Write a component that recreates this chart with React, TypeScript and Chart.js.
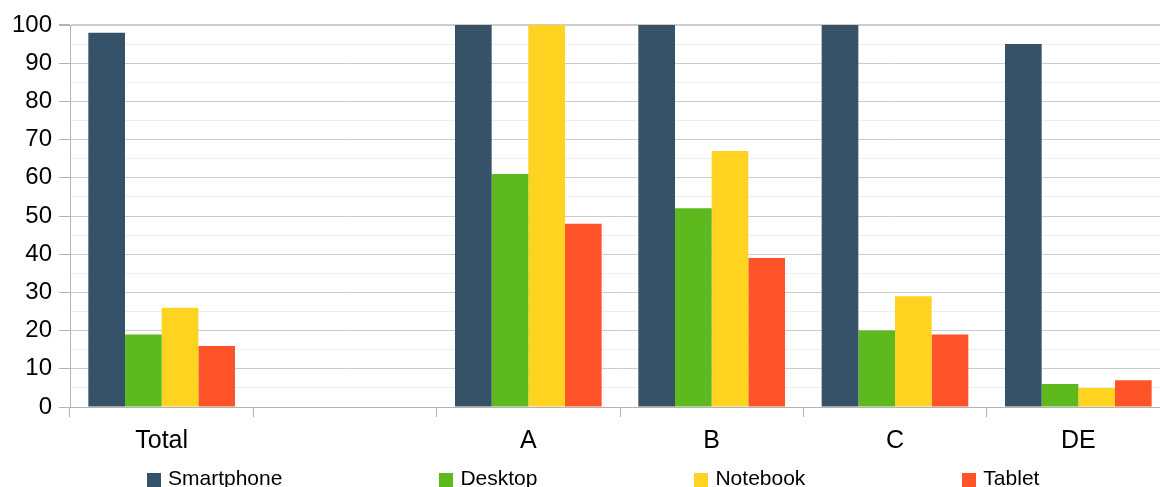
import React, { useEffect, useRef } from "react";
import { Chart, registerables } from "chart.js";

Chart.register(...registerables);

const categories = ["Total", "", "A", "B", "C", "DE"];
const smartphone = [98, null, 100, 100, 100, 95];
const desktop = [19, null, 61, 52, 20, 6];
const notebook = [26, null, 100, 67, 29, 5];
const tablet = [16, null, 48, 39, 19, 7];
const yTicks = [0, 10, 20, 30, 40, 50, 60, 70, 80, 90, 100];

const seriesNames = ["Smartphone", "Desktop", "Notebook", "Tablet"];
const seriesColors = ["#355269", "#5eb91e", "#ffd320", "#ff5429"];
const seriesData = [smartphone, desktop, notebook, tablet];

const FONT = '"Liberation Sans", Arial, sans-serif';

export default function App() {
  const ref = useRef<HTMLCanvasElement | null>(null);

  useEffect(() => {
    if (!ref.current) return;
    const chart = new Chart(ref.current, {
      type: "bar",
      data: {
        labels: categories,
        datasets: seriesNames.map((name, i) => ({
          label: name,
          data: seriesData[i],
          backgroundColor: seriesColors[i],
          borderWidth: 0,
          categoryPercentage: 0.8,
          barPercentage: 1.0,
        })),
      },
      options: {
        responsive: false,
        animation: false,
        layout: { padding: { top: 25, bottom: 32, left: 0, right: 2 } },
        plugins: {
          legend: { display: false },
          tooltip: { enabled: false },
        },
        scales: {
          x: {
            grid: {
              display: true,
              drawOnChartArea: false,
              drawTicks: true,
              tickLength: 10,
              color: "#b3b3b3",
              offset: true,
            },
            border: { display: true, color: "#b3b3b3", width: 1 },
            ticks: {
              font: { family: FONT, size: 25 },
              color: "#000000",
              padding: 9,
              maxRotation: 0,
              autoSkip: false,
            },
            afterFit: (s: any) => {
              s.height = 48;
            },
          },
          y: {
            min: 0,
            max: 100,
            grid: {
              color: (c: any) =>
                c.tick && c.tick.value % 10 === 0 ? "#cccccc" : "#eeeeee",
              lineWidth: (c: any) => (c.tick && c.tick.value === 100 ? 2 : 1),
              tickColor: (c: any) =>
                c.tick && c.tick.value % 10 === 0 ? "#b3b3b3" : "rgba(0,0,0,0)",
              tickLength: 11,
            },
            border: { display: true, color: "#b3b3b3", width: 1 },
            ticks: {
              stepSize: 5,
              autoSkip: false,
              font: { family: FONT, size: 24 },
              color: "#000000",
              padding: 7,
              callback: (v: any) => (yTicks.includes(Number(v)) ? String(v) : ""),
            },
            afterFit: (s: any) => {
              s.width = 70;
            },
          },
        },
      },
    });
    return () => chart.destroy();
  }, []);

  return (
    <div
      style={{
        position: "fixed",
        left: 0,
        top: 0,
        width: 1160,
        height: 487,
        overflow: "hidden",
        background: "#ffffff",
      }}
    >
      <canvas ref={ref} width={1172} height={487} style={{ display: "block" }} />
      <div
        style={{
          position: "absolute",
          top: 466,
          left: 147,
          display: "flex",
          alignItems: "flex-start",
          fontFamily: FONT,
          fontSize: 21,
          lineHeight: "24px",
          color: "#000",
          whiteSpace: "nowrap",
        }}
      >
        {seriesNames.map((name, i) => (
          <div
            key={name}
            style={{
              display: "flex",
              alignItems: "flex-start",
              marginLeft: i === 0 ? 0 : 157,
            }}
          >
            <span
              style={{
                display: "inline-block",
                width: 14,
                height: 14,
                marginTop: 7,
                marginRight: 7,
                background: seriesColors[i],
              }}
            />
            <span>{name}</span>
          </div>
        ))}
      </div>
    </div>
  );
}
